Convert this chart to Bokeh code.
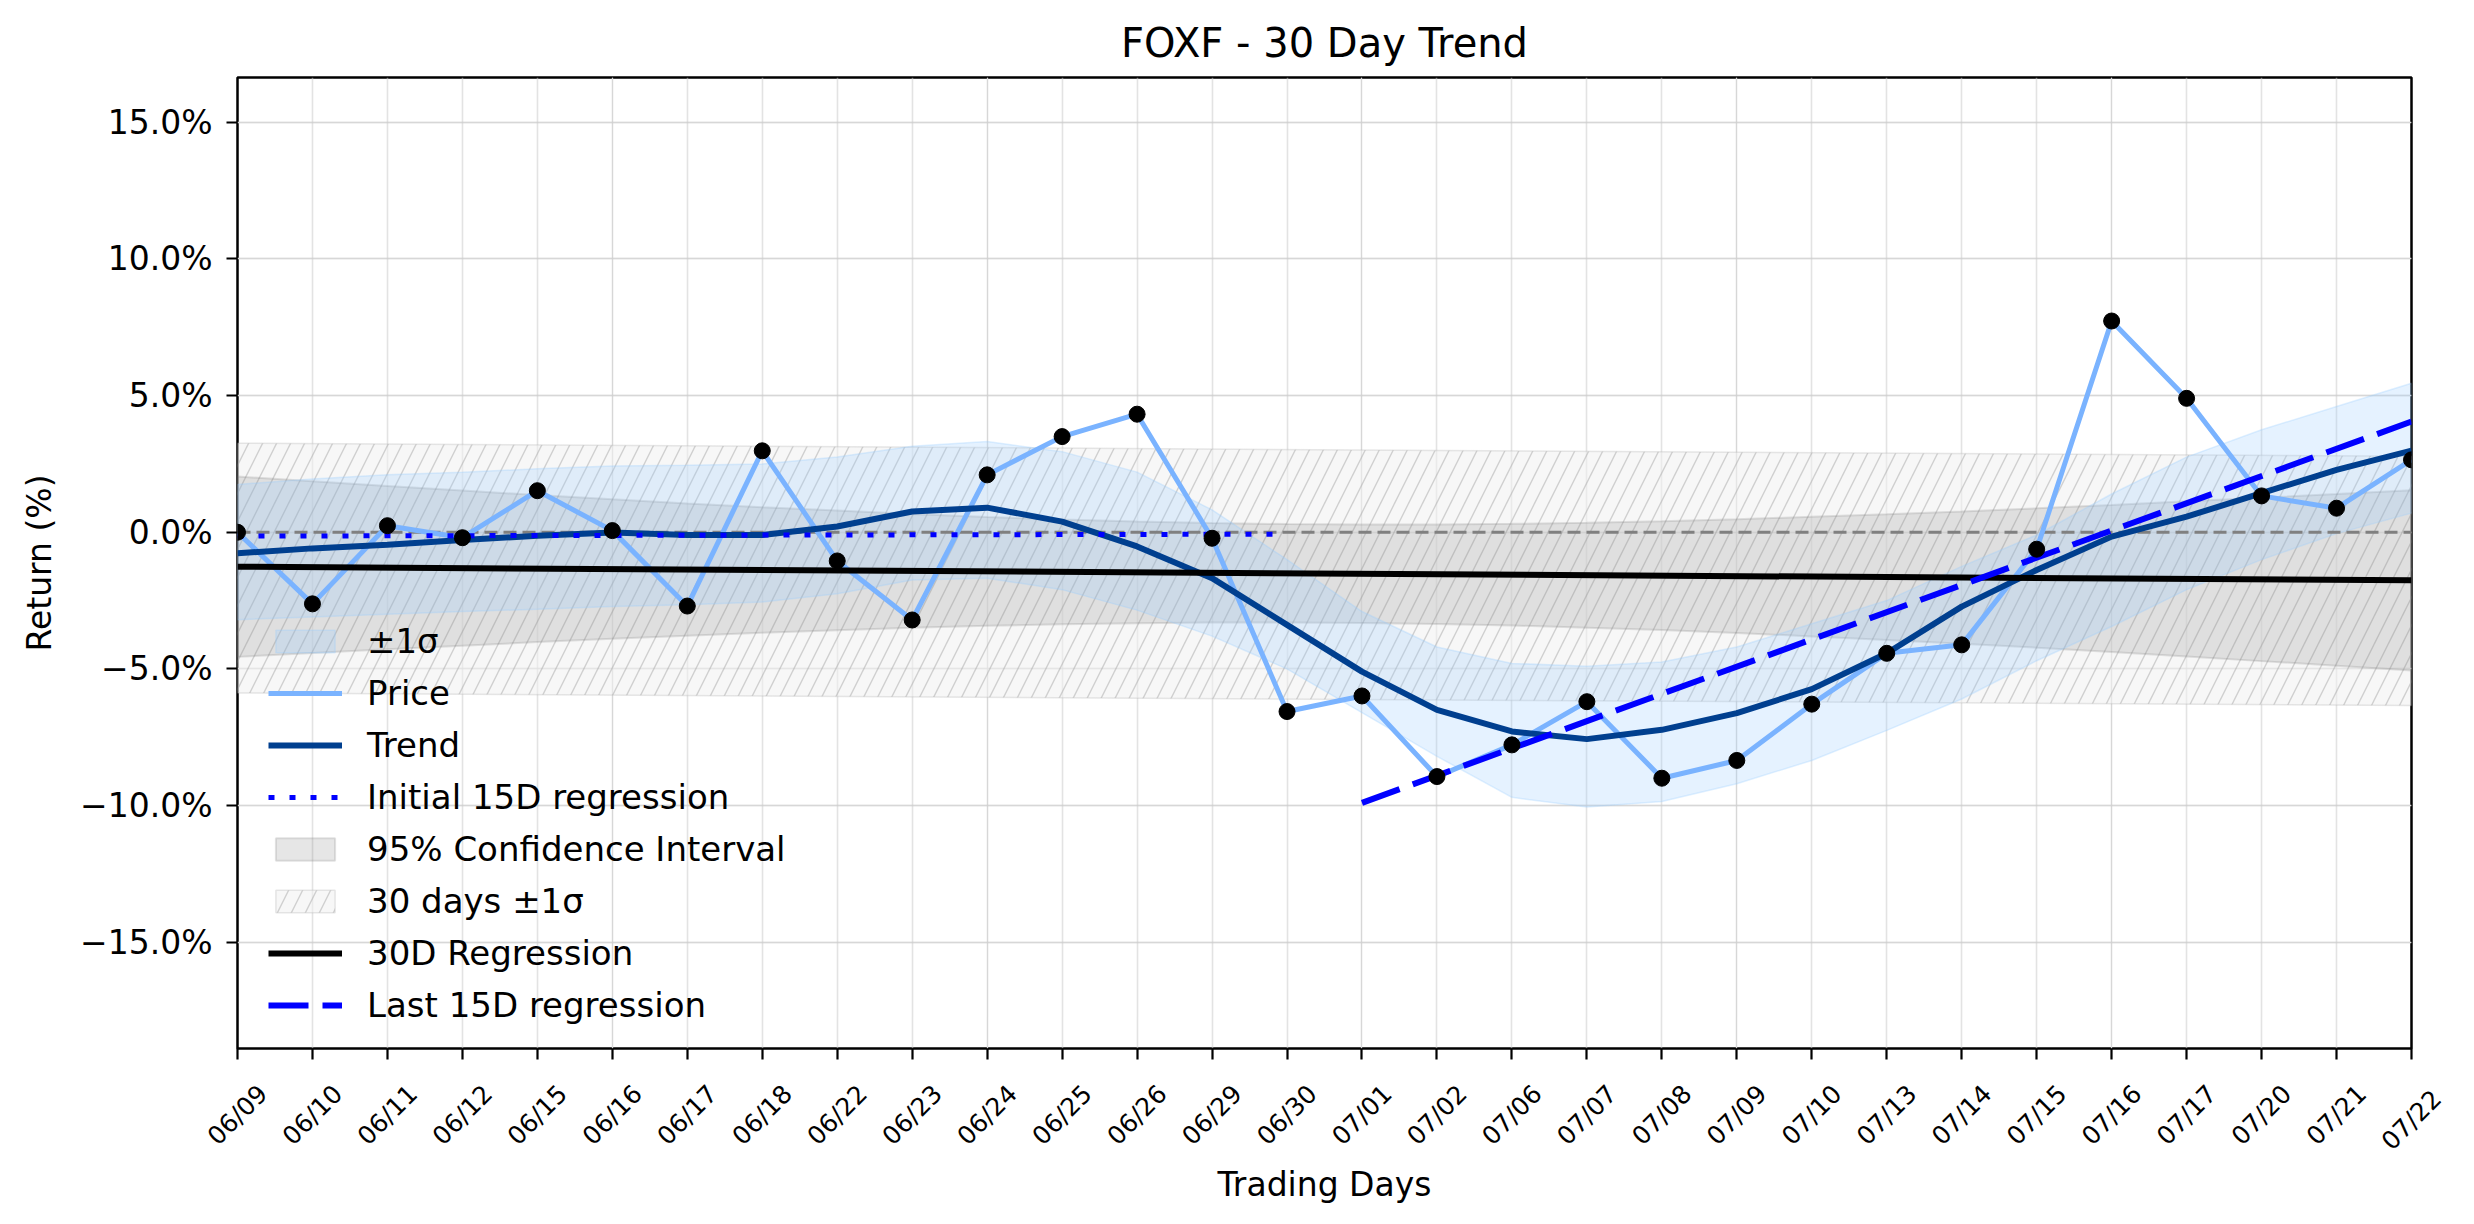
from math import pi
from bokeh.plotting import figure
from bokeh.models import (LinearAxis, FixedTicker, Grid, Range1d, Legend, LegendItem,
                          CustomJSTickFormatter)
from bokeh.embed import file_html
from bokeh.resources import INLINE

FONT = "DejaVu Sans"

# ---------------- data ----------------
dates = ["06/09", "06/10", "06/11", "06/12", "06/15", "06/16", "06/17", "06/18", "06/22", "06/23",
         "06/24", "06/25", "06/26", "06/29", "06/30", "07/01", "07/02", "07/06", "07/07", "07/08",
         "07/09", "07/10", "07/13", "07/14", "07/15", "07/16", "07/17", "07/20", "07/21", "07/22"]

price = [0.00, -2.62, 0.24, -0.20, 1.52, 0.06, -2.70, 2.98, -1.05, -3.21,
         2.10, 3.50, 4.32, -0.22, -6.56, -5.99, -8.94, -7.78, -6.20, -9.00,
         -8.35, -6.29, -4.43, -4.12, -0.62, 7.73, 4.90, 1.33, 0.88, 2.65]

trend = [-0.77, -0.59, -0.46, -0.28, -0.13, -0.01, -0.10, -0.10, 0.21, 0.76,
         0.90, 0.39, -0.52, -1.68, -3.39, -5.10, -6.50, -7.29, -7.57, -7.23,
         -6.62, -5.74, -4.43, -2.72, -1.38, -0.16, 0.57, 1.43, 2.28, 2.99]

sigma_upper = [1.75, 1.95, 2.10, 2.20, 2.32, 2.42, 2.45, 2.50, 2.75, 3.15,
               3.32, 2.95, 2.20, 0.82, -1.00, -2.90, -4.20, -4.80, -4.90, -4.75,
               -4.20, -3.35, -2.50, -1.25, -0.10, 1.40, 2.75, 3.75, 4.60, 5.45]

sigma_lower = [-3.20, -3.10, -3.00, -2.90, -2.82, -2.72, -2.65, -2.55, -2.25, -1.75,
               -1.68, -2.10, -2.85, -3.80, -5.00, -6.60, -8.20, -9.70, -10.05, -9.85,
               -9.20, -8.35, -7.25, -6.10, -4.70, -3.45, -2.10, -1.00, -0.05, 0.70]

# 30-day regression line (start, end) and the half-width of its 95% CI at each day
reg30_x = [0, 29]
reg30_y = [-1.26, -1.76]
ci_half = [3.30, 3.14, 2.99, 2.84, 2.69, 2.55, 2.42, 2.30, 2.19, 2.08,
           1.99, 1.92, 1.86, 1.82, 1.80, 1.80, 1.82, 1.86, 1.92, 1.99,
           2.08, 2.19, 2.30, 2.42, 2.55, 2.69, 2.84, 2.99, 3.14, 3.30]

# 30 days +/- 1 sigma band (edges at start and end)
band30_x = [0, 29]
band30_upper = [3.26, 2.78]
band30_lower = [-5.88, -6.34]

# partial regressions
init15_x = [0, 14]
init15_y = [-0.14, -0.07]
last15_x = [15, 29]
last15_y = [-9.90, 4.05]

yticks = [-15, -10, -5, 0, 5, 10, 15]
ytick_labels = ["\u221215.0%", "\u221210.0%", "\u22125.0%", "0.0%", "5.0%", "10.0%", "15.0%"]

# ---------------- figure ----------------
x = list(range(len(dates)))
n = len(dates)

p = figure(width=2474, height=1224, x_range=Range1d(0, 29), y_range=Range1d(-18.89, 16.64),
           output_backend="svg", toolbar_location=None,
           x_axis_location=None, y_axis_location=None,
           min_border_left=237, min_border_right=63, min_border_top=77, min_border_bottom=176,
           background_fill_color="white", border_fill_color="white")
p.outline_line_color = "black"
p.outline_line_width = 2.5

p.title.text = "FOXF - 30 Day Trend"
p.title.align = "center"
p.title.text_font = FONT
p.title.text_font_size = "40px"
p.title.text_font_style = "normal"
p.title.text_color = "black"
p.title.standoff = 23

# grids
xgrid = Grid(dimension=0, ticker=FixedTicker(ticks=x), grid_line_color="#cccccc",
             grid_line_alpha=0.55, grid_line_width=1.6)
ygrid = Grid(dimension=1, ticker=FixedTicker(ticks=yticks), grid_line_color="#cccccc",
             grid_line_alpha=0.55, grid_line_width=1.8)
p.add_layout(xgrid)
p.add_layout(ygrid)

# ---- x axis: tick marks ----
xaxis = LinearAxis(ticker=FixedTicker(ticks=x),
                   major_label_overrides={i: "" for i in x},
                   major_label_text_font_size="0px", major_label_standoff=0,
                   major_tick_out=11, major_tick_in=0, major_tick_line_width=2.2,
                   major_tick_line_color="black",
                   minor_tick_line_color=None, axis_line_color=None)
p.add_layout(xaxis, "below")

# ---- x axis: rotated date labels, centred on the ticks ----
OFF = 0.34   # half the horizontal extent of a rotated label, in days
lab_fmt_a = CustomJSTickFormatter(args=dict(labels=dates, off=OFF),
                                  code="return labels[Math.round(tick - off)]")
xlab_a = LinearAxis(ticker=FixedTicker(ticks=[i + OFF for i in x[:-1]]), formatter=lab_fmt_a,
                    major_label_orientation=pi / 4, major_label_standoff=30,
                    major_label_text_font=FONT, major_label_text_font_size="25px",
                    major_label_text_color="black",
                    major_tick_out=0, major_tick_in=0, major_tick_line_color=None,
                    minor_tick_line_color=None, axis_line_color=None)
p.add_layout(xlab_a, "below")

lab_fmt_b = CustomJSTickFormatter(args=dict(labels=dates, off=OFF),
                                  code="return labels[Math.round(tick + off)]")
xlab_b = LinearAxis(ticker=FixedTicker(ticks=[x[-1] - OFF]), formatter=lab_fmt_b,
                    major_label_orientation=pi / 4 - 2 * pi, major_label_standoff=-18,
                    major_label_text_font=FONT, major_label_text_font_size="25px",
                    major_label_text_color="black",
                    major_tick_out=0, major_tick_in=0, major_tick_line_color=None,
                    minor_tick_line_color=None, axis_line_color=None,
                    axis_label="Trading Days", axis_label_text_font=FONT,
                    axis_label_text_color="black",
                    axis_label_text_font_size="33px", axis_label_text_font_style="normal",
                    axis_label_standoff=-14)
p.add_layout(xlab_b, "below")

# ---- y axis ----
yaxis = LinearAxis(ticker=FixedTicker(ticks=yticks),
                   major_label_overrides={t: s for t, s in zip(yticks, ytick_labels)},
                   major_label_text_font=FONT, major_label_text_font_size="33px",
                   major_label_text_color="black",
                   major_label_standoff=14,
                   major_tick_out=11, major_tick_in=0, major_tick_line_width=2.2,
                   major_tick_line_color="black",
                   minor_tick_line_color=None, axis_line_color=None,
                   axis_label="Return (%)", axis_label_text_font=FONT,
                   axis_label_text_color="black",
                   axis_label_text_font_size="33px", axis_label_text_font_style="normal",
                   axis_label_standoff=18)
p.add_layout(yaxis, "left")

# bands
b30_xs = band30_x + band30_x[::-1]
b30_ys = band30_upper + band30_lower[::-1]
r_band30 = p.patch(b30_xs, b30_ys, fill_color="#f0f0f0", fill_alpha=0.55,
                   hatch_pattern="/", hatch_color="#a8a8a8", hatch_alpha=0.5,
                   hatch_scale=28, hatch_weight=1.4,
                   line_color="#bbbbbb", line_alpha=0.35, line_width=1.5)

slope = (reg30_y[1] - reg30_y[0]) / (reg30_x[1] - reg30_x[0])
reg_at = [reg30_y[0] + slope * (i - reg30_x[0]) for i in x]
ci_up = [r + h for r, h in zip(reg_at, ci_half)]
ci_lo = [r - h for r, h in zip(reg_at, ci_half)]
r_ci = p.patch(x + x[::-1], ci_up + ci_lo[::-1], fill_color="#808080", fill_alpha=0.2,
               line_color="#808080", line_alpha=0.22, line_width=2)

r_sig = p.patch(x + x[::-1], sigma_upper + sigma_lower[::-1], fill_color="#99ccff",
                fill_alpha=0.25, line_color="#99ccff", line_alpha=0.3, line_width=1.5)

# zero line
p.line([0, 29], [0, 0], line_color="#808080", line_width=3, line_dash="13 6")

# lines
r_price = p.line(x, price, line_color="#7ab3ff", line_width=5)
r_trend = p.line(x, trend, line_color="#003f8f", line_width=6)
r_init = p.line(init15_x, init15_y, line_color="#0000ff", line_width=5, line_dash="6 15")
r_reg = p.line(reg30_x, reg30_y, line_color="black", line_width=6)
r_last = p.line(last15_x, last15_y, line_color="#0000ff", line_width=6, line_dash="40 14")
p.scatter(x, price, size=16, color="black")

legend = Legend(items=[
    LegendItem(label="\u00b11\u03c3", renderers=[r_sig]),
    LegendItem(label="Price", renderers=[r_price]),
    LegendItem(label="Trend", renderers=[r_trend]),
    LegendItem(label="Initial 15D regression", renderers=[r_init]),
    LegendItem(label="95% Confidence Interval", renderers=[r_ci]),
    LegendItem(label="30 days \u00b11\u03c3", renderers=[r_band30]),
    LegendItem(label="30D Regression", renderers=[r_reg]),
    LegendItem(label="Last 15D regression", renderers=[r_last]),
], location=(31, 23), padding=0, margin=0, spacing=12, glyph_width=74, glyph_height=28,
    label_height=40, label_standoff=25, label_text_font=FONT, label_text_font_size="34px",
    label_text_color="black",
    background_fill_alpha=0, border_line_alpha=0)
p.add_layout(legend)

open("out.html", "w").write(file_html(p, INLINE))
